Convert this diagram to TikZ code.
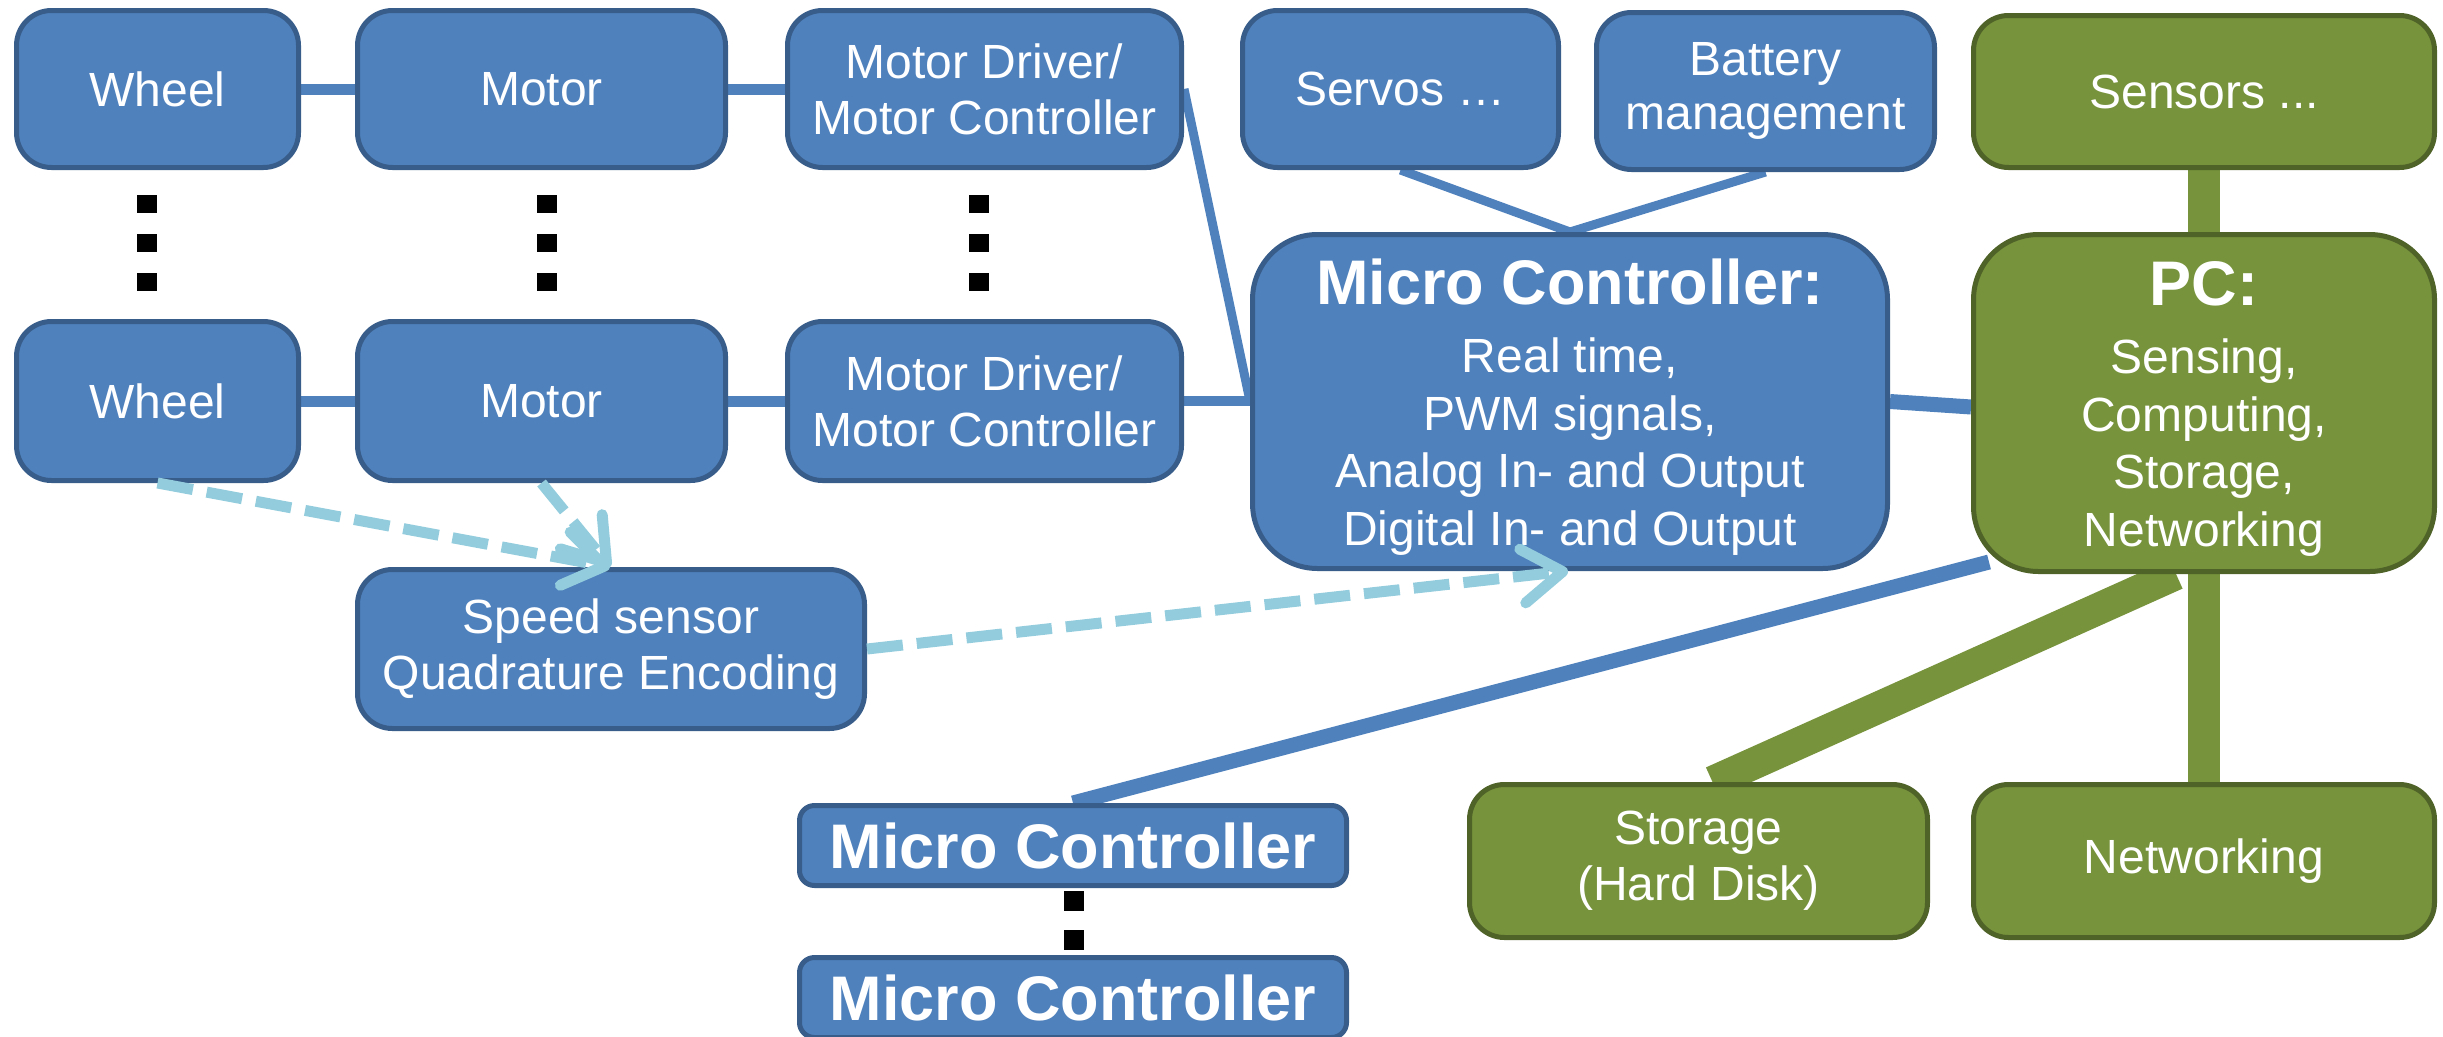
\documentclass[tikz,border=0pt]{standalone}
\usepackage{fontspec}
\setmainfont{Liberation Sans}
\usetikzlibrary{arrows.meta,calc,backgrounds}

\definecolor{boxblue}{HTML}{4F81BD}
\definecolor{edgeblue}{HTML}{385D8A}
\definecolor{boxgreen}{HTML}{77933C}
\definecolor{edgegreen}{HTML}{4F6228}
\definecolor{signalblue}{HTML}{93CDDD}

% bold heading of a big box, with extra room above it
\newcommand{\boxheading}[1]{\raisebox{0pt}[\dimexpr\height+11pt\relax][\depth]{\bfseries\fontsize{63}{62}\selectfont #1}}

\begin{document}
\begin{tikzpicture}[x=1pt,y=-1pt,
  box/.style={draw=edgeblue, fill=boxblue, line width=5pt, rounded corners=35pt,
    text=white, align=center, inner sep=0pt, font=\fontsize{48}{56}\selectfont},
  bigbox/.style={box, rounded corners=65pt, font=\fontsize{48}{57.5}\selectfont},
  smallbox/.style={box, rounded corners=15pt, font=\bfseries\fontsize{63}{70}\selectfont},
  greenbox/.style={draw=edgegreen, fill=boxgreen},
  link/.style={draw=boxblue, line width=#1},
  link/.default=9pt,
  pclink/.style={draw=boxgreen, line width=#1},
  signal/.style={draw=signalblue, line width=11pt, dash pattern=on 36pt off 14pt,
    -{Straight Barb[length=40pt,width=54pt,line cap=round,line join=round]}},
  ellipsisdot/.style={fill=black}
]
\useasboundingbox (0,0) rectangle (2443,1036);

% first drive chain
\node[box, minimum width=282pt, minimum height=157pt] (wheel1) at (157.5,89) {Wheel};
\node[box, minimum width=368pt, minimum height=157pt] (motor1) at (541.5,89) {Motor};
\node[box, minimum width=394pt, minimum height=157pt] (drv1) at (984.5,89) {Motor Driver/\\Motor Controller};

% last drive chain
\node[box, minimum width=282pt, minimum height=159pt] (wheel2) at (157.5,401) {Wheel};
\node[box, minimum width=368pt, minimum height=159pt] (motor2) at (541.5,401) {Motor};
\node[box, minimum width=394pt, minimum height=159pt] (drv2) at (984.5,401) {Motor Driver/\\Motor Controller};

% peripherals of the micro controller
\node[box, minimum width=316pt, minimum height=157pt] (servos) at (1400.5,89) {Servos …};
\node[box, minimum width=338pt, minimum height=157pt, font=\fontsize{48}{54}\selectfont] (battery) at (1765.5,91) {Battery\\management};

% main micro controller
\node[bigbox, minimum width=635pt, minimum height=334pt] (mc) at (1570,401.5)
  {\boxheading{Micro Controller:}\\[11pt]Real time,\\PWM signals,\\Analog In- and Output\\Digital In- and Output};

% PC side
\node[box, greenbox, minimum width=461pt, minimum height=152pt] (sensors) at (2204,91.5) {Sensors ...};
\node[bigbox, greenbox, minimum width=461pt, minimum height=337pt] (pc) at (2204,403)
  {\boxheading{PC:}\\[11pt]Sensing,\\Computing,\\Storage,\\Networking};
\node[box, greenbox, minimum width=458pt, minimum height=153pt] (storage) at (1698.5,861) {Storage\\(Hard Disk)};
\node[box, greenbox, minimum width=461pt, minimum height=153pt] (net) at (2204,861) {Networking};

% encoder
\node[box, minimum width=507pt, minimum height=159pt] (speed) at (611,649) {Speed sensor\\Quadrature Encoding};

% further micro controllers
\node[smallbox, minimum width=547pt, minimum height=80pt] (mcs1) at (1073,845.5) {Micro Controller};
\node[smallbox, minimum width=547pt, minimum height=80pt] (mcs2) at (1073,997.5) {Micro Controller};

% vertical ellipses between repeated units
\foreach \x in {147,547,979}{
  \foreach \y in {195,234,273}{
    \fill[ellipsisdot] (\x-10,\y) rectangle ++(20,18);
  }
}
\foreach \y in {891,930}{
  \fill[ellipsisdot] (1064,\y) rectangle ++(20,20);
}

% wiring behind the boxes
\begin{scope}[on background layer]
  \draw[link=11pt] (wheel1) -- (motor1);
  \draw[link=11pt] (motor1) -- (drv1);
  \draw[link=11pt] (wheel2) -- (motor2);
  \draw[link=11pt] (motor2) -- (drv2);
  \draw[link=9pt] (drv1.east) -- (mc.west |- drv2.east);
  \draw[link=10pt] (drv2.east) -- (mc.west |- drv2.east);
  \draw[link=9pt] (servos.south) -- (mc.north);
  \draw[link=9pt] (battery.south) -- (mc.north);
  \draw[link=15pt] (mc.east) -- ($(pc.west)+(0,4)$);
  \draw[link=15pt] ($(pc.south west)+(18,-12)$) -- (mcs1.north);
  \draw[pclink=32pt] (sensors.south) -- (pc.north);
  \draw[pclink=32pt] (pc.south) -- (net.north);
  \draw[pclink=32pt] ($(pc.south)+(-28,0)$) -- ($(storage.north)+(14,0)$);
\end{scope}

% encoder signals
\draw[signal] (wheel2.south) -- ($(speed.north)+(-1,0)$);
\draw[signal] (motor2.south) -- ($(speed.north)+(-1,0)$);
\draw[signal] (speed.east) -- ($(mc.south)+(-2,0)$);
\end{tikzpicture}
\end{document}
